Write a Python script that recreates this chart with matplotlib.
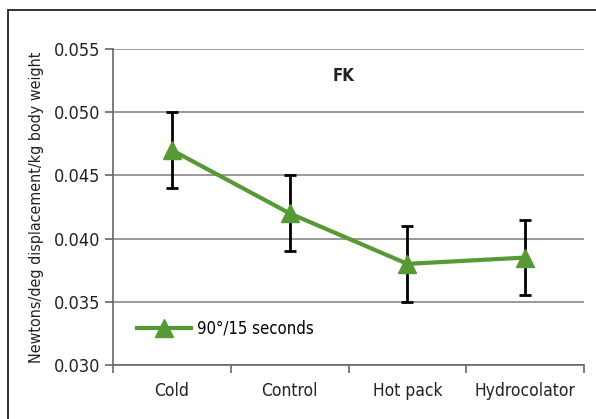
import matplotlib.pyplot as plt
from matplotlib.patches import Rectangle

categories = ["Cold", "Control", "Hot pack", "Hydrocolator"]
means = [0.0470, 0.0420, 0.0380, 0.0385]
errors = [0.0030, 0.0030, 0.0030, 0.0030]
y_ticks = [0.030, 0.035, 0.040, 0.045, 0.050, 0.055]
series_label = "90\u00b0/15 seconds"

plt.rcParams["font.family"] = ["Liberation Sans Narrow", "DejaVu Sans"]
plt.rcParams["font.stretch"] = "condensed"
green = "#559a35"

fig = plt.figure(figsize=(5.96, 4.19), dpi=100)
ax = fig.add_axes([113 / 596, 1 - 365 / 419, (584 - 113) / 596, (365 - 49) / 419])

# outer frame of the figure panel
fig.patches.append(Rectangle((8 / 596, -0.05), 1.1, 1 - 10 / 419 + 0.05,
                             transform=fig.transFigure, fill=False,
                             edgecolor="#222222", linewidth=1.3))

x = list(range(len(categories)))
ax.errorbar(x, means, yerr=errors, fmt="none", ecolor="black",
            elinewidth=2.0, capsize=4, capthick=2.0, zorder=3)
ax.plot(x, means, color=green, linewidth=3, marker="^", markersize=13,
        label=series_label, zorder=4)

ax.set_xlim(-0.5, len(categories) - 0.5)
ax.set_ylim(0.030, 0.055)
ax.set_yticks(y_ticks)
ax.set_yticklabels([f"{t:.3f}" for t in y_ticks])
ax.set_xticks(x)
ax.set_xticklabels(categories)
ax.set_xticks([i - 0.5 for i in range(len(categories) + 1)], minor=True)
ax.tick_params(axis="x", which="major", length=0, pad=12, labelsize=12.5, colors="#222222")
ax.tick_params(axis="x", which="minor", length=6, width=1.2, color="#666666", direction="out")
ax.tick_params(axis="y", length=6, width=1.2, color="#666666", labelsize=13,
               labelcolor="#222222", pad=3)

ax.yaxis.grid(True, color="#888888", linewidth=1.2)
ax.set_axisbelow(True)
for s in ["top", "right"]:
    ax.spines[s].set_visible(False)
ax.spines["left"].set_color("#666666")
ax.spines["left"].set_linewidth(1.2)
ax.spines["bottom"].set_color("#666666")
ax.spines["bottom"].set_linewidth(1.2)

ax.set_ylabel("Newtons/deg displacement/kg body weight", fontsize=11.5,
              color="#222222", labelpad=7)
ax.text(0.49, 0.915, "FK", transform=ax.transAxes, ha="center", va="center",
        fontsize=12, fontweight="bold", color="#222222")

ax.legend(loc="lower left", bbox_to_anchor=(0.02, 0.04), frameon=False,
          fontsize=12, handlelength=3.2, handletextpad=0.4)

fig.savefig("out.png", dpi=100)
